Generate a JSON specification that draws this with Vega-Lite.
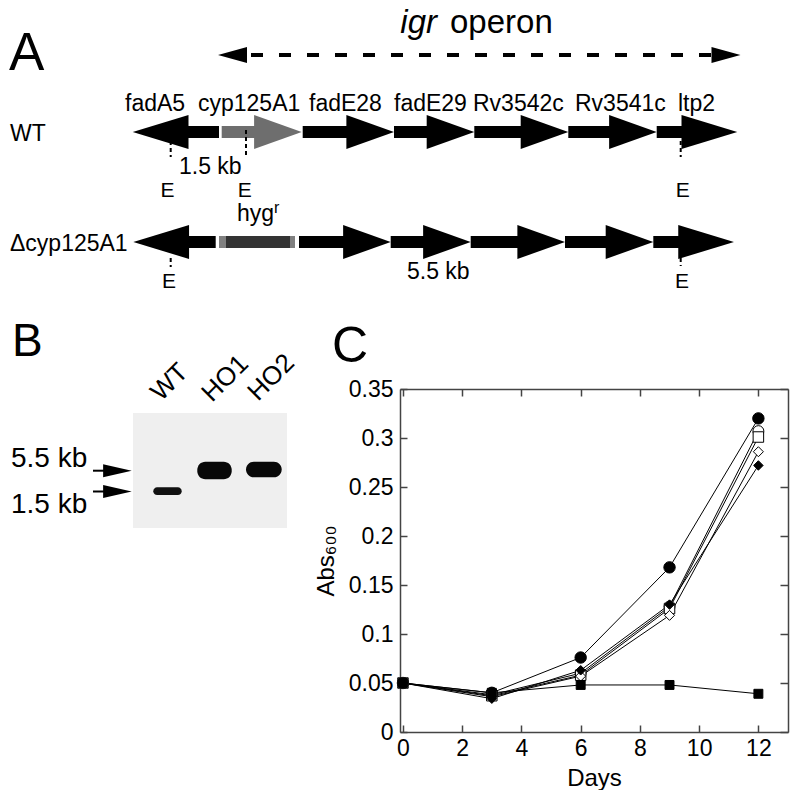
{
  "$schema": "https://vega.github.io/schema/vega-lite/v6.json",
  "padding": 0,
  "background": "white",
  "bounds": "flush",
  "spacing": 0,
  "config": {"font": "Liberation Sans", "view": {"stroke": null}},
  "datasets": {
    "growth": [
      {"series": "s1", "day": 0, "abs": 0.05}, {"series": "s1", "day": 3, "abs": 0.04}, {"series": "s1", "day": 6, "abs": 0.076}, {"series": "s1", "day": 9, "abs": 0.168}, {"series": "s1", "day": 12, "abs": 0.32},
      {"series": "s2", "day": 0, "abs": 0.05}, {"series": "s2", "day": 3, "abs": 0.038}, {"series": "s2", "day": 6, "abs": 0.06}, {"series": "s2", "day": 9, "abs": 0.128}, {"series": "s2", "day": 12, "abs": 0.307},
      {"series": "s3", "day": 0, "abs": 0.05}, {"series": "s3", "day": 3, "abs": 0.037}, {"series": "s3", "day": 6, "abs": 0.058}, {"series": "s3", "day": 9, "abs": 0.126}, {"series": "s3", "day": 12, "abs": 0.301},
      {"series": "s4", "day": 0, "abs": 0.05}, {"series": "s4", "day": 3, "abs": 0.036}, {"series": "s4", "day": 6, "abs": 0.057}, {"series": "s4", "day": 9, "abs": 0.119}, {"series": "s4", "day": 12, "abs": 0.286},
      {"series": "s5", "day": 0, "abs": 0.05}, {"series": "s5", "day": 3, "abs": 0.034}, {"series": "s5", "day": 6, "abs": 0.063}, {"series": "s5", "day": 9, "abs": 0.13}, {"series": "s5", "day": 12, "abs": 0.272},
      {"series": "s6", "day": 0, "abs": 0.05}, {"series": "s6", "day": 3, "abs": 0.04}, {"series": "s6", "day": 6, "abs": 0.048}, {"series": "s6", "day": 9, "abs": 0.048}, {"series": "s6", "day": 12, "abs": 0.039}
    ]
  },
  "vconcat": [
    {
      "width": 800,
      "height": 389,
      "encoding": {
        "x": {"field": "x", "type": "quantitative", "scale": {"domain": [0, 800], "zero": false, "nice": false}, "axis": null},
        "y": {"field": "y", "type": "quantitative", "scale": {"domain": [0, 389], "reverse": true, "zero": false, "nice": false}, "axis": null}
      },
      "layer": [
        {
          "data": {"values": [
            {"gene": "fadA5", "row": "WT", "x": 186, "x2": 219, "y": 126, "y2": 138},
            {"gene": "fadE28", "row": "WT", "x": 302.7, "x2": 348, "y": 126, "y2": 138},
            {"gene": "fadE29", "row": "WT", "x": 394, "x2": 427, "y": 126, "y2": 138},
            {"gene": "Rv3542c", "row": "WT", "x": 474.3, "x2": 521, "y": 126, "y2": 138},
            {"gene": "Rv3541c", "row": "WT", "x": 568.3, "x2": 611, "y": 126, "y2": 138},
            {"gene": "ltp2", "row": "WT", "x": 656.7, "x2": 683, "y": 126, "y2": 138},
            {"gene": "fadA5", "row": "Δcyp125A1", "x": 184, "x2": 215.7, "y": 236, "y2": 248},
            {"gene": "fadE28", "row": "Δcyp125A1", "x": 299, "x2": 345, "y": 236, "y2": 248},
            {"gene": "fadE29", "row": "Δcyp125A1", "x": 390.7, "x2": 425, "y": 236, "y2": 248},
            {"gene": "Rv3542c", "row": "Δcyp125A1", "x": 470.7, "x2": 519, "y": 236, "y2": 248},
            {"gene": "Rv3541c", "row": "Δcyp125A1", "x": 565, "x2": 608, "y": 236, "y2": 248},
            {"gene": "ltp2", "row": "Δcyp125A1", "x": 653.3, "x2": 680, "y": 236, "y2": 248}
          ]},
          "mark": {"type": "rect", "fill": "#000000"},
          "encoding": {"x2": {"field": "x2"}, "y2": {"field": "y2"}}
        },
        {
          "data": {"values": [{"gene": "cyp125A1", "row": "WT", "x": 221.7, "x2": 256, "y": 126, "y2": 138}]},
          "mark": {"type": "rect", "fill": "#6e6e6e"},
          "encoding": {"x2": {"field": "x2"}, "y2": {"field": "y2"}}
        },
        {
          "data": {"values": [
            {"gene": "fadE28", "row": "WT", "x": 370.2, "y": 132},
            {"gene": "fadE29", "row": "WT", "x": 450.5, "y": 132},
            {"gene": "Rv3542c", "row": "WT", "x": 544.5, "y": 132},
            {"gene": "Rv3541c", "row": "WT", "x": 632.9, "y": 132},
            {"gene": "fadE28", "row": "Δcyp125A1", "x": 366.9, "y": 242},
            {"gene": "fadE29", "row": "Δcyp125A1", "x": 446.9, "y": 242},
            {"gene": "Rv3542c", "row": "Δcyp125A1", "x": 541.2, "y": 242},
            {"gene": "Rv3541c", "row": "Δcyp125A1", "x": 629.5, "y": 242}
          ]},
          "mark": {"type": "point", "shape": "M-1.4,-1L1.4,0L-1.4,1Z", "size": 1156, "filled": true, "color": "#000000", "strokeWidth": 0, "opacity": 1},
          "encoding": {}
        },
        {
          "data": {"values": [{"gene": "cyp125A1", "row": "WT", "x": 277.9, "y": 132}]},
          "mark": {"type": "point", "shape": "M-1.4,-1L1.4,0L-1.4,1Z", "size": 1156, "filled": true, "color": "#6e6e6e", "strokeWidth": 0, "opacity": 1},
          "encoding": {}
        },
        {
          "data": {"values": [
            {"gene": "ltp2", "row": "WT", "x": 709.4, "y": 132},
            {"gene": "ltp2", "row": "Δcyp125A1", "x": 706.1, "y": 242}
          ]},
          "mark": {"type": "point", "shape": "M-1.64,-1L1.64,0L-1.64,1Z", "size": 1156, "filled": true, "color": "#000000", "strokeWidth": 0, "opacity": 1},
          "encoding": {}
        },
        {
          "data": {"values": [
            {"gene": "fadA5", "row": "WT", "x": 160.6, "y": 132},
            {"gene": "fadA5", "row": "Δcyp125A1", "x": 161.2, "y": 242}
          ]},
          "mark": {"type": "point", "shape": "M1.64,-1L-1.64,0L1.64,1Z", "size": 1156, "filled": true, "color": "#000000", "strokeWidth": 0, "opacity": 1},
          "encoding": {}
        },
        {
          "data": {"values": [{"end": "left", "x": 232.5, "y": 55}]},
          "mark": {"type": "point", "shape": "M1.81,-1L-1.81,0L1.81,1Z", "size": 256, "filled": true, "color": "#000000", "strokeWidth": 0, "opacity": 1},
          "encoding": {}
        },
        {
          "data": {"values": [{"end": "right", "x": 726, "y": 55}]},
          "mark": {"type": "point", "shape": "M-1.81,-1L1.81,0L-1.81,1Z", "size": 256, "filled": true, "color": "#000000", "strokeWidth": 0, "opacity": 1},
          "encoding": {}
        },
        {
          "data": {"values": [{"part": "hygr", "x": 219, "x2": 295, "y": 236, "y2": 248}]},
          "mark": {"type": "rect", "fill": "#808080"},
          "encoding": {"x2": {"field": "x2"}, "y2": {"field": "y2"}}
        },
        {
          "data": {"values": [{"part": "hygr core", "x": 226, "x2": 290, "y": 236, "y2": 248}]},
          "mark": {"type": "rect", "fill": "#333333"},
          "encoding": {"x2": {"field": "x2"}, "y2": {"field": "y2"}}
        },
        {
          "data": {"values": [
            {"site": "E", "x": 170.7, "y": 141, "y2": 157},
            {"site": "E", "x": 246, "y": 130, "y2": 157},
            {"site": "E", "x": 680.7, "y": 141, "y2": 157},
            {"site": "E", "x": 170.7, "y": 258, "y2": 267},
            {"site": "E", "x": 680.7, "y": 258, "y2": 266}
          ]},
          "mark": {"type": "rule", "color": "#000000", "strokeWidth": 2, "strokeDash": [4, 3]},
          "encoding": {"y2": {"field": "y2"}}
        },
        {
          "data": {"values": [{"name": "igr operon", "x": 251, "x2": 712, "y": 55}]},
          "mark": {"type": "rule", "color": "#000000", "strokeWidth": 4, "strokeDash": [12, 16]},
          "encoding": {"x2": {"field": "x2"}}
        },
        {
          "data": {"values": [
            {"label": "fadA5", "x": 125, "y": 111},
            {"label": "cyp125A1", "x": 198, "y": 111},
            {"label": "fadE28", "x": 309, "y": 111},
            {"label": "fadE29", "x": 394, "y": 111},
            {"label": "Rv3542c", "x": 473, "y": 111},
            {"label": "Rv3541c", "x": 575, "y": 111},
            {"label": "ltp2", "x": 678, "y": 111},
            {"label": "WT", "x": 10, "y": 141},
            {"label": "Δcyp125A1", "x": 10, "y": 251},
            {"label": "1.5 kb", "x": 179, "y": 174},
            {"label": "5.5 kb", "x": 407, "y": 279}
          ]},
          "mark": {"type": "text", "align": "left", "baseline": "alphabetic", "fontSize": 23, "color": "#000000"},
          "encoding": {"text": {"field": "label"}}
        },
        {
          "data": {"values": [
            {"label": "E", "x": 167.5, "y": 197},
            {"label": "E", "x": 244.7, "y": 196.5},
            {"label": "E", "x": 682.7, "y": 197},
            {"label": "E", "x": 169, "y": 288},
            {"label": "E", "x": 682, "y": 288}
          ]},
          "mark": {"type": "text", "align": "center", "baseline": "alphabetic", "fontSize": 21, "color": "#000000"},
          "encoding": {"text": {"field": "label"}}
        },
        {
          "data": {"values": [{"label": "hyg", "x": 237, "y": 221}]},
          "mark": {"type": "text", "align": "left", "baseline": "alphabetic", "fontSize": 23, "color": "#000000"},
          "encoding": {"text": {"field": "label"}}
        },
        {
          "data": {"values": [{"label": "r", "x": 274, "y": 213}]},
          "mark": {"type": "text", "align": "left", "baseline": "alphabetic", "fontSize": 16, "color": "#000000"},
          "encoding": {"text": {"field": "label"}}
        },
        {
          "data": {"values": [{"label": "igr", "x": 437, "y": 33}]},
          "mark": {"type": "text", "align": "right", "baseline": "alphabetic", "fontSize": 33, "fontStyle": "italic", "color": "#000000"},
          "encoding": {"text": {"field": "label"}}
        },
        {
          "data": {"values": [{"label": "operon", "x": 450, "y": 33}]},
          "mark": {"type": "text", "align": "left", "baseline": "alphabetic", "fontSize": 33, "color": "#000000"},
          "encoding": {"text": {"field": "label"}}
        },
        {
          "data": {"values": [{"label": "A", "x": 9, "y": 70}]},
          "mark": {"type": "text", "align": "left", "baseline": "alphabetic", "fontSize": 53, "color": "#000000"},
          "encoding": {"text": {"field": "label"}}
        }
      ]
    },
    {
      "bounds": "flush",
      "spacing": 0,
      "hconcat": [
        {
          "width": 400,
          "height": 343,
          "encoding": {
            "x": {"field": "x", "type": "quantitative", "scale": {"domain": [0, 400], "zero": false, "nice": false}, "axis": null},
            "y": {"field": "y", "type": "quantitative", "scale": {"domain": [389, 732], "reverse": true, "zero": false, "nice": false}, "axis": null}
          },
          "layer": [
            {
              "data": {"values": [{"part": "gel", "x": 133, "x2": 287, "y": 413, "y2": 528}]},
              "mark": {"type": "rect", "fill": "#efefef"},
              "encoding": {"x2": {"field": "x2"}, "y2": {"field": "y2"}}
            },
            {
              "data": {"values": [
                {"lane": "HO1", "x": 197.3, "x2": 231.7, "y": 461.7, "y2": 479.3},
                {"lane": "HO2", "x": 246, "x2": 281.7, "y": 461.7, "y2": 477.3}
              ]},
              "mark": {"type": "rect", "fill": "#080808", "cornerRadius": 8},
              "encoding": {"x2": {"field": "x2"}, "y2": {"field": "y2"}}
            },
            {
              "data": {"values": [{"lane": "WT", "x": 153.3, "x2": 181.7, "y": 487.3, "y2": 495}]},
              "mark": {"type": "rect", "fill": "#111111", "cornerRadius": 4},
              "encoding": {"x2": {"field": "x2"}, "y2": {"field": "y2"}}
            },
            {
              "data": {"values": [
                {"marker": "5.5 kb", "x": 93, "x2": 106, "y": 470.7},
                {"marker": "1.5 kb", "x": 93, "x2": 106, "y": 491.5}
              ]},
              "mark": {"type": "rule", "color": "#000000", "strokeWidth": 2},
              "encoding": {"x2": {"field": "x2"}}
            },
            {
              "data": {"values": [
                {"marker": "5.5 kb", "x": 117.4, "y": 470.7},
                {"marker": "1.5 kb", "x": 117.4, "y": 491.5}
              ]},
              "mark": {"type": "point", "shape": "M-2.2,-1L2.2,0L-2.2,1Z", "size": 169, "filled": true, "color": "#000000", "strokeWidth": 0, "opacity": 1},
              "encoding": {}
            },
            {
              "data": {"values": [
                {"label": "5.5 kb", "x": 11, "y": 466.7},
                {"label": "1.5 kb", "x": 11, "y": 513}
              ]},
              "mark": {"type": "text", "align": "left", "baseline": "alphabetic", "fontSize": 28, "color": "#000000"},
              "encoding": {"text": {"field": "label"}}
            },
            {
              "data": {"values": [
                {"label": "WT", "x": 161, "y": 402},
                {"label": "HO1", "x": 212, "y": 403},
                {"label": "HO2", "x": 258, "y": 402}
              ]},
              "mark": {"type": "text", "align": "left", "baseline": "alphabetic", "fontSize": 26, "angle": -45, "color": "#000000"},
              "encoding": {"text": {"field": "label"}}
            },
            {
              "data": {"values": [
                {"label": "B", "x": 12, "y": 356}
              ]},
              "mark": {"type": "text", "align": "left", "baseline": "alphabetic", "fontSize": 46, "color": "#000000"},
              "encoding": {"text": {"field": "label"}}
            },
            {
              "data": {"values": [
                {"label": "C", "x": 332, "y": 362}
              ]},
              "mark": {"type": "text", "align": "left", "baseline": "alphabetic", "fontSize": 50, "color": "#000000"},
              "encoding": {"text": {"field": "label"}}
            }
          ]
        },
        {
          "width": 388,
          "height": 343,
          "data": {"name": "growth"},
          "layer": [
            {
              "mark": {"type": "line", "color": "#000000", "strokeWidth": 1},
              "encoding": {
                "x": {"field": "day", "type": "quantitative", "scale": {"domain": [-0.1, 13], "zero": false, "nice": false},
                  "axis": {"orient": "bottom", "values": [0, 2, 4, 6, 8, 10, 12], "title": "Days", "tickSize": -7, "labelPadding": 12, "labelFontSize": 23, "labelColor": "#000000", "labelFlush": false, "titleFontSize": 24, "titleFontWeight": "normal", "titleColor": "#000000", "titlePadding": 6, "domainColor": "#444444", "domainWidth": 1.5, "tickColor": "#444444", "tickWidth": 1.5, "grid": false}},
                "y": {"field": "abs", "type": "quantitative", "scale": {"domain": [0, 0.35], "zero": false, "nice": false},
                  "axis": {"orient": "left", "values": [0, 0.05, 0.1, 0.15, 0.2, 0.25, 0.3, 0.35], "format": ".2~f", "title": "Abs₆₀₀", "tickSize": -7, "labelPadding": 14, "labelFontSize": 23, "labelColor": "#000000", "labelFlush": false, "titleFontSize": 24, "titleFontWeight": "normal", "titleColor": "#000000", "titlePadding": 10, "domainColor": "#444444", "domainWidth": 1.5, "tickColor": "#444444", "tickWidth": 1.5, "grid": false}},
                "detail": {"field": "series"}
              }
            },
            {
              "mark": {"type": "point", "filled": true, "stroke": "#000000", "strokeWidth": 1, "opacity": 1},
              "encoding": {
                "x": {"field": "day", "type": "quantitative",
                  "axis": {"orient": "top", "values": [0, 2, 4, 6, 8, 10, 12], "labels": false, "title": null, "tickSize": -7, "domainColor": "#444444", "domainWidth": 1.5, "tickColor": "#444444", "tickWidth": 1.5, "grid": false}},
                "y": {"field": "abs", "type": "quantitative",
                  "axis": {"orient": "right", "values": [0, 0.05, 0.1, 0.15, 0.2, 0.25, 0.3, 0.35], "labels": false, "title": null, "tickSize": -8, "domainColor": "#444444", "domainWidth": 1.5, "tickColor": "#444444", "tickWidth": 1.5, "grid": false}},
                "shape": {"field": "series", "type": "nominal", "scale": {"domain": ["s1", "s2", "s3", "s4", "s5", "s6"], "range": ["circle", "circle", "square", "diamond", "diamond", "square"]}, "legend": null},
                "fill": {"field": "series", "type": "nominal", "scale": {"domain": ["s1", "s2", "s3", "s4", "s5", "s6"], "range": ["#000000", "#ffffff", "#ffffff", "#ffffff", "#000000", "#000000"]}, "legend": null},
                "size": {"field": "series", "type": "nominal", "scale": {"domain": ["s1", "s2", "s3", "s4", "s5", "s6"], "range": [130, 80, 100, 75, 85, 140]}, "legend": null}
              }
            }
          ]
        }
      ]
    }
  ]
}
